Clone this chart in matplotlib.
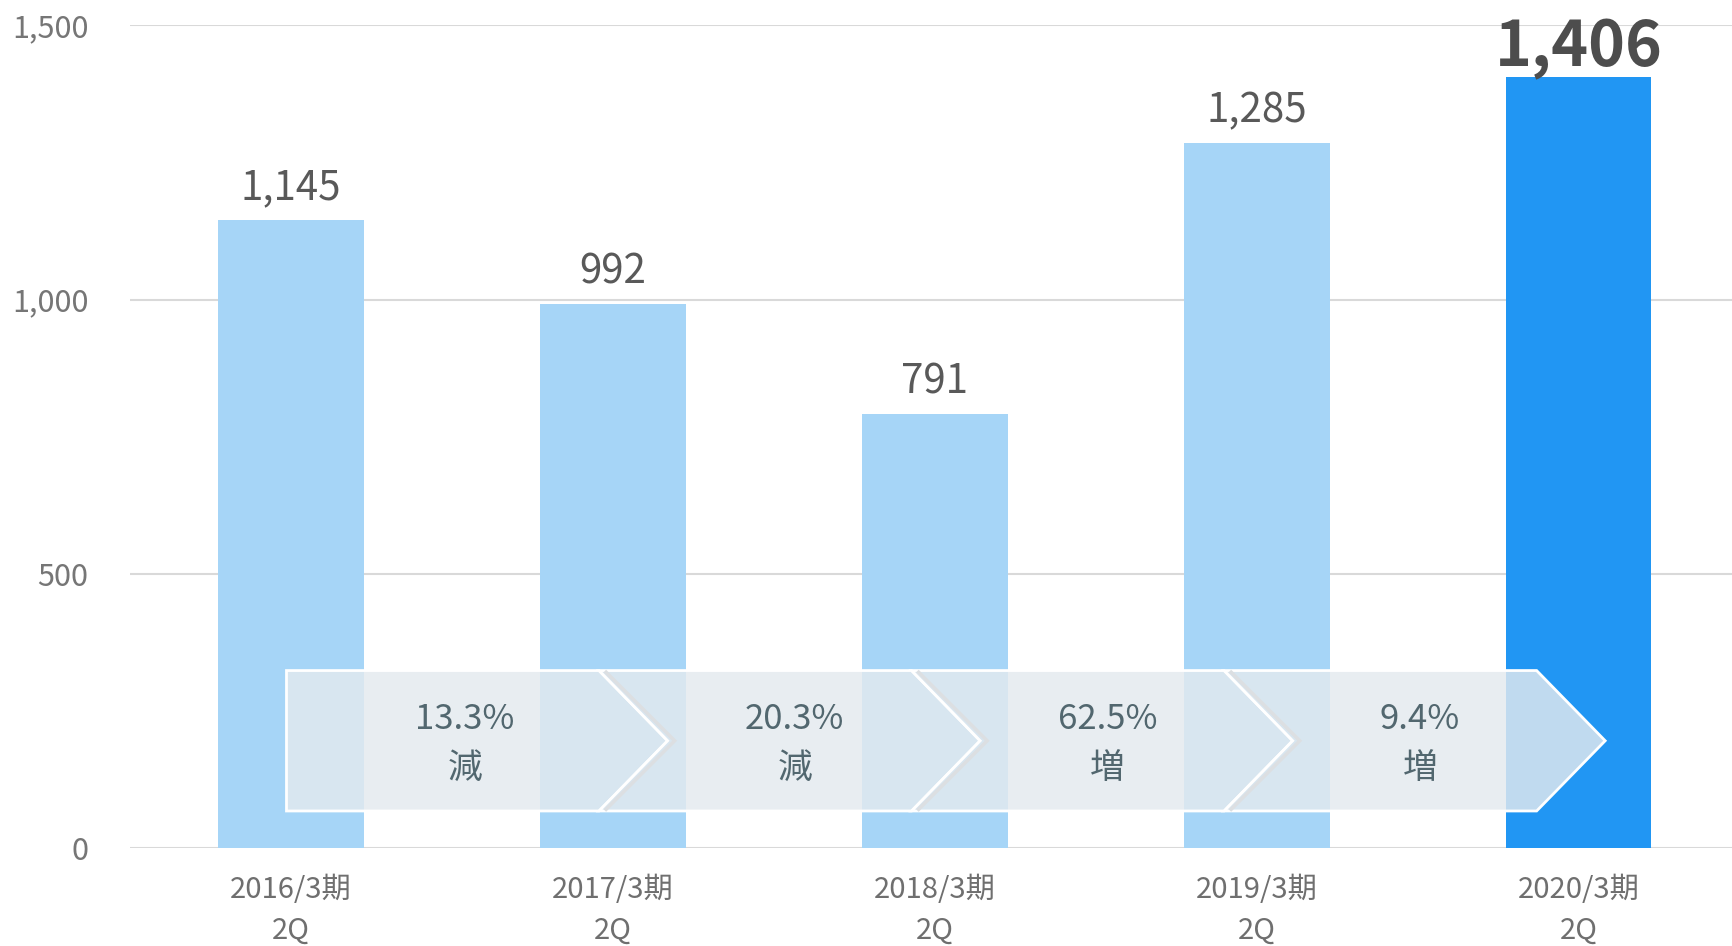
import matplotlib
matplotlib.use('Agg')

import matplotlib.pyplot as plt
from matplotlib.patches import Polygon
from matplotlib.ticker import FuncFormatter

# ─── Data ───
periods = ['2016/3期', '2017/3期', '2018/3期', '2019/3期', '2020/3期']
quarter = '2Q'
values = [1145, 992, 791, 1285, 1406]
changes = ['13.3%', '20.3%', '62.5%', '9.4%']
directions = ['減', '減', '増', '増']
yticks = [0, 500, 1000, 1500]

plt.rcParams['font.family'] = ['Noto Sans CJK JP', 'DejaVu Sans']

fig = plt.figure(figsize=(17.32, 9.46), dpi=100)
ax = fig.add_axes([0.0751, 0.1033, 0.9249, 0.8698])

# ─── Bars ───
xs = list(range(len(values)))
n = len(values)
colors = ['#A6D5F7'] * (n - 1) + ['#2196F3']
bars = ax.bar(xs, values, width=0.453, color=colors, zorder=2)

for i, (b, v) in enumerate(zip(bars, values)):
    last = i == n - 1
    ax.annotate(f'{v:,}', (b.get_x() + b.get_width() / 2, v),
                xytext=(0, 8 if last else 15), textcoords='offset points',
                ha='center', va='baseline',
                fontsize=45 if last else 29,
                fontweight='bold' if last else 'normal',
                color='#4D4D4D' if last else '#595959', zorder=5)

# ─── Chevron band with growth rates ───
lo, hi = 68, 324
mid = (lo + hi) / 2
depth = 0.213
seg = 0.971
fill = (228 / 255, 234 / 255, 239 / 255, 0.82)
prev = -0.014
for i, (chg, d) in enumerate(zip(changes, directions)):
    c = prev + seg
    if i == 0:
        pts = [(prev, lo), (prev, hi), (c, hi), (c + depth, mid), (c, lo)]
        xc = (prev + c + depth / 2) / 2
    else:
        pts = [(prev, lo), (prev + depth, mid), (prev, hi),
               (c, hi), (c + depth, mid), (c, lo)]
        xc = (prev + c + depth) / 2
    xc += 0.016
    ax.add_patch(Polygon(pts, closed=True, facecolor=fill, edgecolor='white',
                         linewidth=2, zorder=3))
    if i < len(changes) - 1:
        off = 0.022
        ax.plot([c + off, c + depth + off, c + off], [hi - 3, mid, lo + 3],
                color='#DCDFE2', lw=2.5, zorder=3.5, solid_joinstyle='miter')
    ax.text(xc, 234, chg, ha='center', va='center', fontsize=25,
            color='#52676F', zorder=4)
    ax.text(xc, 145, d, ha='center', va='center', fontsize=25,
            color='#52676F', zorder=4)
    prev = c

# ─── Axes styling ───
ax.set_xlim(-0.5, 4.477)
ax.set_ylim(0, 1500)
ax.set_yticks(yticks)
ax.yaxis.set_major_formatter(FuncFormatter(lambda v, p: f'{v:,.0f}'))
ax.set_xticks(xs)
ax.set_xticklabels([f'{p}\n{quarter}' for p in periods], linespacing=1.5)
ax.tick_params(axis='y', length=0, pad=30, labelsize=22, labelcolor='#767676')
ax.tick_params(axis='x', length=0, pad=19, labelsize=21, labelcolor='#6F6F6F')
ax.yaxis.grid(True, color='#D9D9D9', lw=1.5)
ax.set_axisbelow(True)
for s in ax.spines.values():
    s.set_visible(False)

fig.savefig('out.png', dpi=100)
